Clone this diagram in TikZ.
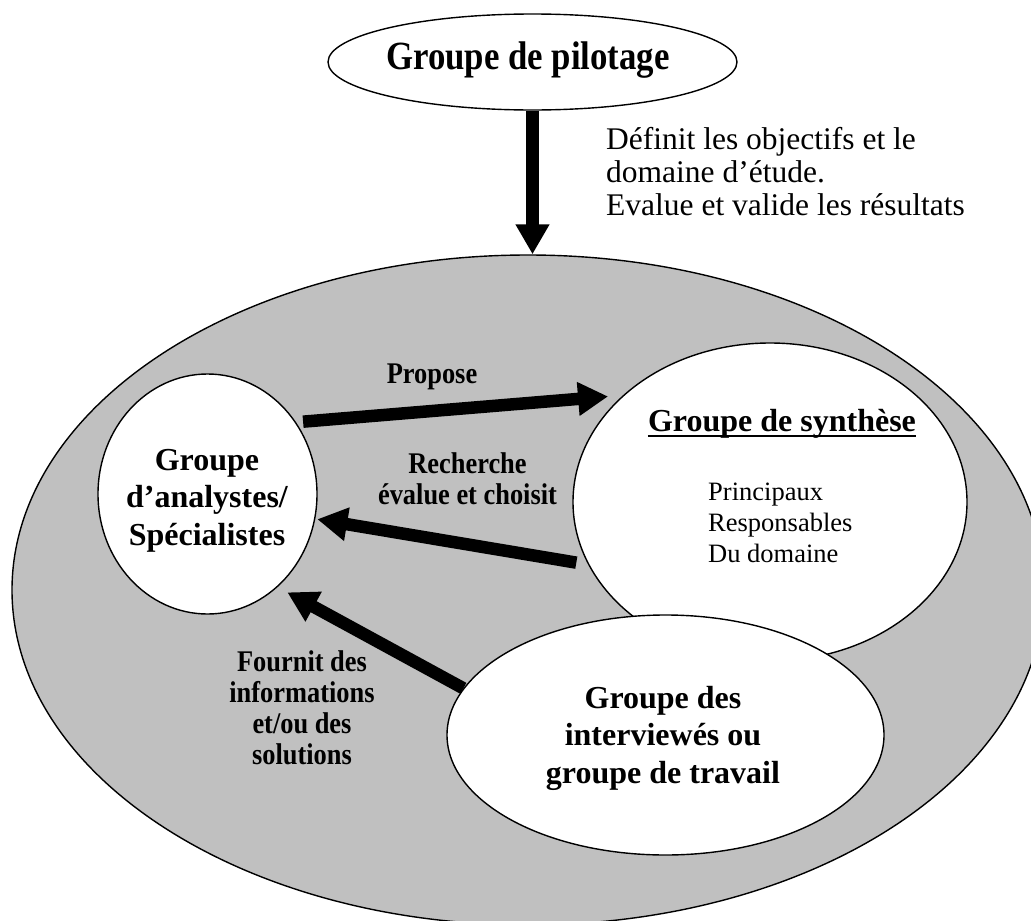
\documentclass[tikz,border=0pt]{standalone}
\usepackage{fontspec}
\usepackage{graphicx}
\setmainfont{Liberation Serif}
\usetikzlibrary{arrows.meta,shapes.geometric}
\definecolor{fillgray}{RGB}{192,192,192}
\pgfdeclarelayer{back}
\pgfdeclarelayer{mid}
\pgfsetlayers{back,mid,main}
% block of lines, scaled horizontally, baseline on its first line
\newcommand\widenlines[3]{\scalebox{#1}[1]{\begin{tabular}[t]{@{}#2@{}}#3\end{tabular}}}
\begin{document}
\begin{tikzpicture}[x=1pt,y=-1pt,
  group/.style={ellipse, draw=black, line width=1.4pt, fill=white, inner sep=0pt},
  bigarrow/.style={line width=12.5pt, -{Triangle[length=30pt,width=32pt]}},
  lbl/.style={font=\fontsize{30}{31}\selectfont\bfseries, inner sep=0pt, anchor=base},
  head/.style={font=\fontsize{32}{37.5}\selectfont\bfseries, inner sep=0pt, anchor=base},
  body/.style={font=\fontsize{26.5}{31}\selectfont, inner sep=0pt, anchor=base west},
  note/.style={font=\fontsize{31.5}{33}\selectfont, inner sep=0pt, anchor=base west}]
\clip (0,0) rectangle (1031,921);
\useasboundingbox (0,0) rectangle (1031,921);

% outer field
\begin{pgfonlayer}{back}
\node[group, fill=fillgray, minimum width=1032pt, minimum height=670pt] (main) at (528,590) {};
\end{pgfonlayer}

% groups
\node[group, minimum width=409pt, minimum height=96pt] (pil) at (532.5,62) {};
\node[group, minimum width=219pt, minimum height=240pt] (ana) at (207.5,494) {};
\node[group, minimum width=394pt, minimum height=318pt] (syn) at (770,502) {};
\node[group, minimum width=437pt, minimum height=240pt] (int) at (665.5,735) {};

% flows
\begin{pgfonlayer}{mid}
\draw[bigarrow] (pil.south) -- (pil.south |- main.north);
\draw[bigarrow, shorten <=7pt, shorten >=15pt] (ana.39) -- (syn.144.6);
\draw[bigarrow, shorten <=12pt, shorten >=2pt] (syn.199.9) -- (ana.347.6);
\draw[bigarrow, shorten >=11pt] (int.167.3) -- (ana.307.7);
\end{pgfonlayer}

% texts
\node[font=\fontsize{40}{46}\selectfont\bfseries, inner sep=0pt, anchor=base] (pilt) at (528,69)
  {\widenlines{0.87}{c}{Groupe de pilotage}};
\node[note] (obj) at (606,149)
  {\widenlines{1}{l}{Définit les objectifs et le\\domaine d’étude.\\Evalue et valide les résultats}};
\node[lbl] (prop) at (432,383) {\widenlines{0.88}{c}{Propose}};
\node[lbl] (rech) at (467.5,473) {\widenlines{0.88}{c}{Recherche\\évalue et choisit}};
\node[head] (anat) at (207,470) {\widenlines{1}{c}{Groupe\\d’analystes/\\Spécialistes}};
\node[head] (synt) at (782,431) {\widenlines{1}{c}{Groupe de synthèse}};
\draw[line width=2.7pt] ([yshift=-5pt]synt.base west) -- ([yshift=-5pt]synt.base east);
\node[body] (resp) at (708,500) {\widenlines{1}{l}{Principaux\\Responsables\\Du domaine}};
\node[head] (intt) at (663,708) {\widenlines{1}{c}{Groupe des\\interviewés ou\\groupe de travail}};
\node[lbl] (four) at (302,671) {\widenlines{0.88}{c}{Fournit des\\informations\\et/ou des\\solutions}};
\end{tikzpicture}
\end{document}
